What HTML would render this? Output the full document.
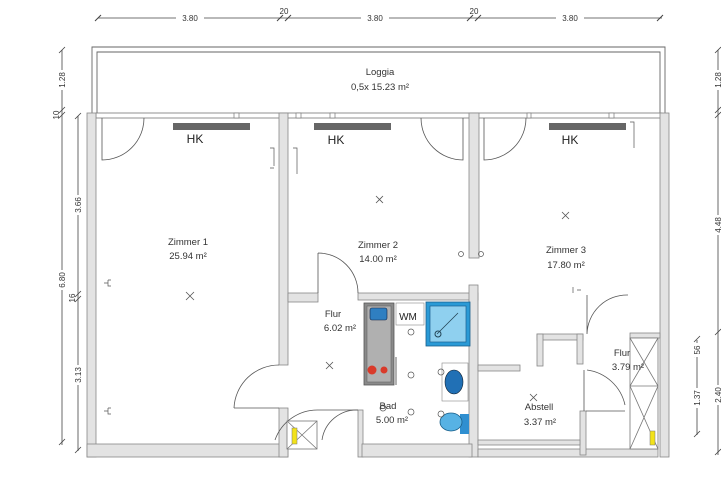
<!DOCTYPE html>
<html><head><meta charset="utf-8"><style>
html,body{margin:0;padding:0;background:#fff;}
svg{display:block;font-family:"Liberation Sans",sans-serif;}
</style></head><body>
<svg width="721" height="481" viewBox="0 0 721 481" xmlns="http://www.w3.org/2000/svg">
<g stroke="#444" stroke-width="0.8" fill="none">
<!-- top dims -->
<line x1="98" y1="18" x2="662" y2="18"/>
<g stroke-width="1">
<path d="M95 21 l6 -6 M277 21 l6 -6 M285 21 l6 -6 M467 21 l6 -6 M475 21 l6 -6 M657 21 l6 -6"/>
</g>
<!-- left dims -->
<line x1="62" y1="50" x2="62" y2="445"/>
<line x1="78" y1="116" x2="78" y2="451"/>
<path d="M59 53 l6 -6 M59 113 l6 -6 M59 118 l6 -6 M59 445 l6 -6 M75 119 l6 -6 M75 297 l6 -6 M75 302 l6 -6 M75 453 l6 -6"/>
<!-- right dims -->
<line x1="718" y1="50" x2="718" y2="455"/>
<line x1="697" y1="340" x2="697" y2="435"/>
<path d="M715 53 l6 -6 M715 113 l6 -6 M715 118 l6 -6 M715 335 l6 -6 M715 455 l6 -6 M694 342 l6 -6 M694 357 l6 -6 M694 437 l6 -6"/>
</g>
<g font-size="8" fill="#333" text-anchor="middle">
<rect x="176" y="12" width="28" height="11" fill="#fff"/><text x="190" y="21">3.80</text>
<text x="284" y="14">20</text>
<rect x="361" y="12" width="28" height="11" fill="#fff"/><text x="375" y="21">3.80</text>
<text x="474" y="14">20</text>
<rect x="556" y="12" width="28" height="11" fill="#fff"/><text x="570" y="21">3.80</text>
<g transform="translate(65,80) rotate(-90)"><rect x="-10" y="-8" width="20" height="10" fill="#fff"/><text>1.28</text></g>
<g transform="translate(59,115) rotate(-90)"><text>10</text></g>
<g transform="translate(65,280) rotate(-90)"><rect x="-10" y="-8" width="20" height="10" fill="#fff"/><text>6.80</text></g>
<g transform="translate(81,205) rotate(-90)"><rect x="-10" y="-8" width="20" height="10" fill="#fff"/><text>3.66</text></g>
<g transform="translate(75,298) rotate(-90)"><text>16</text></g>
<g transform="translate(81,375) rotate(-90)"><rect x="-10" y="-8" width="20" height="10" fill="#fff"/><text>3.13</text></g>
<g transform="translate(721,80) rotate(-90)"><rect x="-10" y="-8" width="20" height="10" fill="#fff"/><text>1.28</text></g>
<g transform="translate(721,225) rotate(-90)"><rect x="-10" y="-8" width="20" height="10" fill="#fff"/><text>4.48</text></g>
<g transform="translate(721,395) rotate(-90)"><rect x="-10" y="-8" width="20" height="10" fill="#fff"/><text>2.40</text></g>
<g transform="translate(700,350) rotate(-90)"><rect x="-7" y="-8" width="14" height="10" fill="#fff"/><text>56</text></g>
<g transform="translate(700,398) rotate(-90)"><rect x="-10" y="-8" width="20" height="10" fill="#fff"/><text>1.37</text></g>
</g>
<!-- loggia -->
<g stroke="#666" fill="none" stroke-width="0.9">
<path d="M92 113 V47 H665 V113"/>
<path d="M97 113 V52 H660 V113"/>
</g>
<!-- top window wall -->
<rect x="96" y="113" width="566" height="5" fill="#fff" stroke="#777" stroke-width="0.8"/>
<!-- walls -->
<g fill="#e3e3e3" stroke="#888" stroke-width="0.8">
<rect x="87" y="113" width="9" height="344"/>
<rect x="87" y="444" width="201" height="13"/>
<rect x="660" y="113" width="9" height="344"/>
<rect x="279" y="113" width="9" height="252"/>
<rect x="279" y="408" width="9" height="49"/>
<rect x="469" y="113" width="10" height="145"/>
<rect x="288" y="293" width="30" height="9"/>
<rect x="358" y="293" width="120" height="7"/>
<rect x="469" y="285" width="9" height="172"/>
<rect x="358" y="410" width="5" height="47"/>
<rect x="362" y="444" width="110" height="13"/>
<rect x="478" y="365" width="42" height="6"/>
<rect x="478" y="449" width="180" height="8"/>
<rect x="537" y="334" width="46" height="6"/>
<rect x="537" y="334" width="6" height="32"/>
<rect x="577" y="334" width="6" height="30"/>
<rect x="580" y="411" width="6" height="44"/>
<rect x="630" y="333" width="30" height="5"/>
<rect x="478" y="440" width="102" height="5"/>
</g>
<!-- small window frames -->
<g fill="#fff" stroke="#777" stroke-width="0.7">
<rect x="234" y="113" width="5" height="5"/><rect x="296" y="113" width="5" height="5"/><rect x="330" y="113" width="5" height="5"/>
<rect x="609" y="113" width="5" height="5"/><rect x="527" y="113" width="4" height="5"/>
</g>
<!-- radiators -->
<g fill="#666">
<rect x="173" y="123" width="77" height="7"/>
<rect x="314" y="123" width="77" height="7"/>
<rect x="549" y="123" width="77" height="7"/>
</g>
<g font-size="12" fill="#222" text-anchor="middle">
<text x="195" y="143">HK</text><text x="336" y="144">HK</text><text x="570" y="144">HK</text>
</g>
<!-- doors -->
<g stroke="#555" fill="none" stroke-width="0.8">
<path d="M102 118 V160 A42 42 0 0 0 144 118"/>
<path d="M463 118 V160 A42 42 0 0 1 421 118"/>
<path d="M484 118 V160 A42 42 0 0 0 526 118"/>
<path d="M318 253 V293 M318 253 A40 40 0 0 1 358 293"/>
<path d="M234 408 H279 M234 408 A45 45 0 0 1 279 365"/>
<path d="M318 410 A45 45 0 0 0 275 440 M358 410 H318"/>
<path d="M358 410 A35 35 0 0 0 322 440"/>
<path d="M587 334 V295 M587 334 A40 40 0 0 1 628 295"/>
<path d="M587 370 A45 45 0 0 1 625 405 M584 370 V411"/>
<path d="M586 411 H625"/>
</g>
<!-- flur2 cabinet -->
<g stroke="#777" fill="#fff" stroke-width="0.8">
<rect x="630" y="338" width="28" height="111"/>
<path d="M630 338 L658 386 M658 338 L630 386 M630 386 H658 L630 449 M630 386 L658 449" fill="none"/>
<rect x="287" y="421" width="30" height="28"/>
<path d="M287 421 L317 449 M317 421 L287 449" fill="none"/>
</g>
<rect x="650" y="431" width="5" height="14" fill="#f2e21a" stroke="#777" stroke-width="0.5"/>
<rect x="292" y="428" width="5" height="16" fill="#f2e21a" stroke="#777" stroke-width="0.5"/>
<!-- kitchen -->
<rect x="364" y="303" width="30" height="82" fill="#8a8a8a" stroke="#555" stroke-width="0.8"/>
<rect x="367" y="306" width="24" height="76" fill="#b0b0b0" stroke="#666" stroke-width="0.6"/>
<rect x="370" y="308" width="17" height="12" rx="2" fill="#2f7fc1" stroke="#124" stroke-width="0.6"/>
<circle cx="372" cy="370" r="4.5" fill="#d93a2a"/><circle cx="384" cy="370" r="3.5" fill="#d93a2a"/>
<line x1="396" y1="357" x2="396" y2="385" stroke="#666"/>
<!-- WM -->
<rect x="396" y="303" width="28" height="22" fill="#fff" stroke="#888" stroke-width="0.6"/>
<text x="408" y="320" font-size="10" text-anchor="middle" fill="#222">WM</text>
<!-- shower -->
<rect x="426" y="302" width="44" height="44" fill="#2a9ad6" stroke="#1a5f8a" stroke-width="0.8"/>
<rect x="430" y="306" width="36" height="36" fill="#8fd0ef" stroke="#1a6090" stroke-width="0.7"/>
<line x1="437" y1="334" x2="458" y2="313" stroke="#245" stroke-width="0.8"/>
<circle cx="438" cy="334" r="3" fill="none" stroke="#245"/>
<!-- washbasin -->
<rect x="442" y="363" width="26" height="38" fill="#fff" stroke="#888" stroke-width="0.6"/>
<ellipse cx="454" cy="382" rx="9" ry="12" fill="#2170b5" stroke="#123" stroke-width="0.6"/>
<!-- toilet -->
<rect x="460" y="414" width="9" height="20" fill="#2f8fd0"/>
<ellipse cx="451" cy="422" rx="11" ry="9" fill="#57b2e4" stroke="#1a5f8a" stroke-width="0.8"/>
<!-- ceiling X marks -->
<g stroke="#555" stroke-width="0.8">
<path d="M186 292 l8 8 M194 292 l-8 8"/>
<path d="M376 196 l7 7 M383 196 l-7 7"/>
<path d="M562 212 l7 7 M569 212 l-7 7"/>
<path d="M326 362 l7 7 M333 362 l-7 7"/>
<path d="M530 394 l7 7 M537 394 l-7 7"/>
</g>
<!-- outlets small -->
<g stroke="#555" fill="none" stroke-width="0.7">
<path d="M104 283 h4 M108 280 v6 h3 M108 280 h3"/>
<path d="M104 411 h4 M108 408 v6 h3 M108 408 h3"/>
<path d="M270 148 h4 v18 M270 168 h4"/>
<path d="M293 148 h4 v26"/>
<path d="M630 122 h4 v26"/>
<path d="M577 290 h4 M573 287 v6"/>
<circle cx="383" cy="408" r="3"/><circle cx="411" cy="412" r="3"/><circle cx="441" cy="414" r="3"/><circle cx="441" cy="372" r="3"/>
<circle cx="411" cy="332" r="3"/><circle cx="411" cy="375" r="3"/>
<circle cx="461" cy="254" r="2.5"/><circle cx="481" cy="254" r="2.5"/>
</g>
<!-- labels -->
<g font-size="9.5" fill="#333" text-anchor="middle">
<text x="380" y="75">Loggia</text>
<text x="380" y="90">0,5x  15.23 m²</text>
<text x="188" y="245">Zimmer 1</text><text x="188" y="259">25.94 m²</text>
<text x="378" y="248">Zimmer 2</text><text x="378" y="262">14.00 m²</text>
<text x="566" y="253">Zimmer 3</text><text x="566" y="268">17.80 m²</text>
<text x="333" y="317">Flur</text><text x="340" y="331">6.02 m²</text>
<text x="388" y="409">Bad</text><text x="392" y="423">5.00 m²</text>
<text x="622" y="356">Flur</text><text x="628" y="370">3.79 m²</text>
<text x="539" y="410">Abstell</text><text x="540" y="425">3.37 m²</text>
</g>
</svg>
</body></html>
